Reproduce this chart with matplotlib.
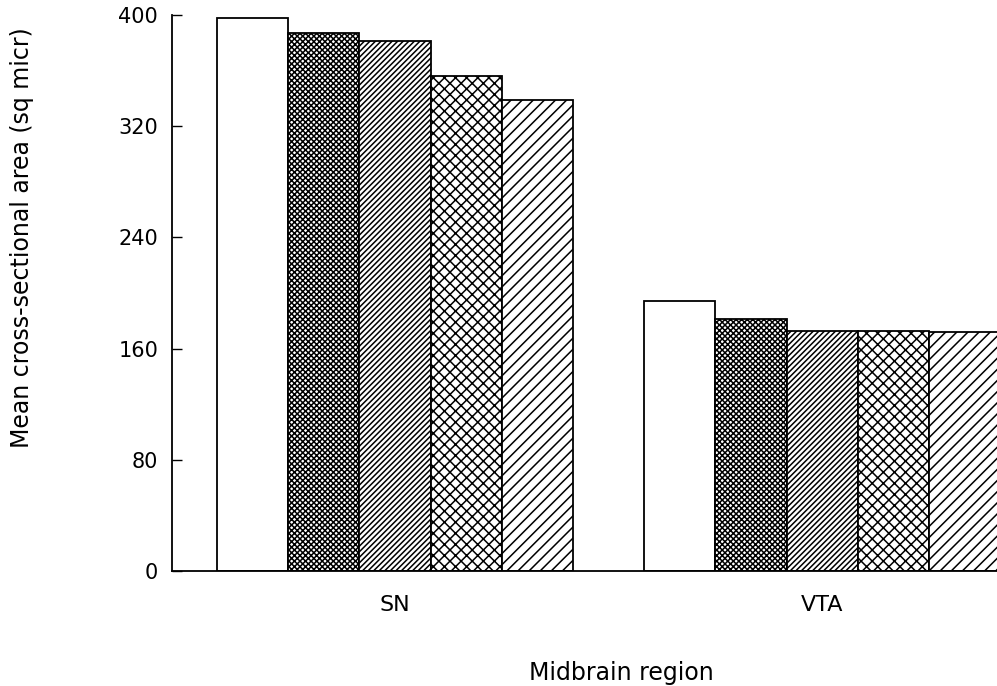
import numpy as np
import matplotlib
matplotlib.use("Agg")
import matplotlib.pyplot as plt

# values (mean cross-sectional area, sq micron)
regions = ["SN", "VTA"]
sn_values = [398, 387, 381, 356, 339]
vta_values = [194, 181, 173, 173, 172]
hatches = ["", "xxxxxx", "//////", "xxx", "///"]
yticks = [0, 80, 160, 240, 320, 400]

plt.rcParams['font.family'] = ['DejaVu Sans']
plt.rcParams['hatch.linewidth'] = 1.1

fig = plt.figure(figsize=(9.97, 6.86), dpi=100)
ax = fig.add_axes([0.1725, 0.1676, 0.838, 0.8105])

n = len(sn_values)
group_pos = np.array([0.0, n + 1.0])
offsets = np.arange(n) - (n - 1) / 2

for i in range(n):
    vals = [sn_values[i], vta_values[i]]
    ax.bar(group_pos + offsets[i], vals, width=1.0, facecolor="white",
           edgecolor="black", hatch=hatches[i], linewidth=1.3)

ax.set_xlim(-3.13, 8.6)
ax.set_ylim(0, 400)

ax.spines['top'].set_visible(False)
ax.spines['right'].set_visible(False)
ax.spines['left'].set_linewidth(1.3)
ax.spines['bottom'].set_linewidth(1.3)

ax.set_yticks(yticks)
ax.set_yticklabels([str(v) for v in yticks])
ax.tick_params(axis='y', direction='in', length=7, width=1, pad=10, labelsize=15)
ax.set_xticks(group_pos)
ax.set_xticklabels(regions)
ax.tick_params(axis='x', length=0, pad=17, labelsize=16)

fig.text(22 / 997, 1 - 238 / 686, "Mean cross-sectional area (sq micr)",
         rotation=90, ha='center', va='center', fontsize=17)
fig.text(621 / 997, 1 - 673 / 686, "Midbrain region",
         ha='center', va='center', fontsize=17)

fig.savefig("out.png", dpi=100)
